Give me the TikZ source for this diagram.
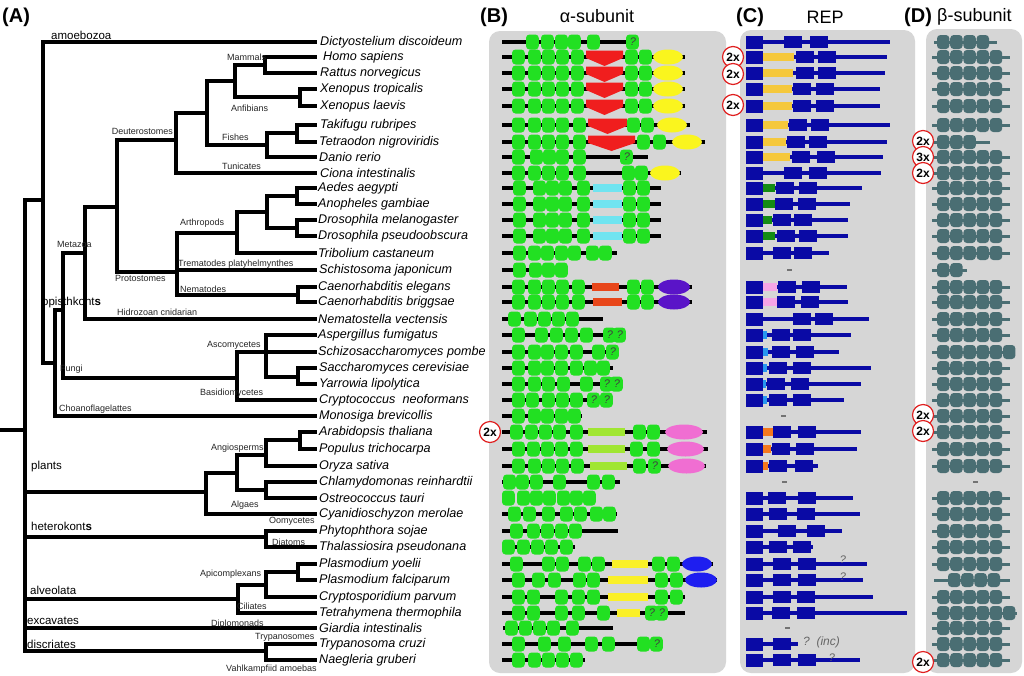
\documentclass[tikz,border=0pt]{standalone}
\usepackage{fontspec}
\setmainfont{Liberation Sans}
\definecolor{gG}{HTML}{22E022}
\definecolor{pnl}{HTML}{D6D6D6}
\definecolor{chevR}{HTML}{F01E1E}
\definecolor{yel}{HTML}{FAF51E}
\definecolor{cyb}{HTML}{70E4F0}
\definecolor{orb}{HTML}{E8461A}
\definecolor{pur}{HTML}{5A14C8}
\definecolor{limeB}{HTML}{A0E632}
\definecolor{pnk}{HTML}{F06ED2}
\definecolor{yelb}{HTML}{FAF028}
\definecolor{bluE}{HTML}{1E1EF0}
\definecolor{navyC}{HTML}{0A0AA5}
\definecolor{goldC}{HTML}{F5C83C}
\definecolor{dgr}{HTML}{148C14}
\definecolor{pnk2}{HTML}{F5A5E6}
\definecolor{lbl}{HTML}{2896F0}
\definecolor{orgC}{HTML}{F5781E}
\definecolor{tealD}{HTML}{4A6E73}
\definecolor{mkred}{HTML}{E02020}
% tree
\newcommand\Hl[3]{\draw[tr] (#1,#3) -- (#2,#3);}
\newcommand\Vl[3]{\draw[tr] (#1,#2) -- (#1,#3);}
\newcommand\Lf[2]{\draw[tr] (#1,#2) -- (315,#2);}
% panel B
\newcommand\Bl[3]{\draw[bln] (#2,#1) -- (#3,#1);}
\newcommand\Bb[2]{\foreach \q in {#2}{\fill[gbx] (\q,#1-7.5) rectangle ++(12.8,15);}}
\newcommand\Bq[2]{\foreach \q in {#2}{\fill[gbx] (\q,#1-7.5) rectangle ++(12.8,15); \node[qm] (q-#1-\q) at (\q+7,#1) {?};}}
\newcommand\Bch[3]{\fill[chevR] (#2,#1-6.5) -- (#3,#1-6.5) -- (#3,#1+1) -- ({(#2+#3)/2},#1+9) -- (#2,#1+1) -- cycle;}
\newcommand\Bbar[4]{\fill[#4] (#2,#1-4) rectangle (#3,#1+4);}
\newcommand\Bel[4]{\fill[#4] ({(#2+#3)/2},#1) ellipse ({(#3-#2)/2} and 7.5);}
% panel C
\newcommand\Cr[4]{\draw[cln] (763,#1) -- (#2,#1);
  \fill[navyC] (746,#1-6.5) rectangle (763,#1+6.5);
  \foreach \q in {#3,#4}{\fill[navyC] (\q,#1-6) rectangle ++(17.5,12);}}
\newcommand\Cbar[3]{\fill[#3] (763,#1-4) rectangle (#2,#1+4);}
\newcommand\Cdash[2]{\draw[black!55,line width=1.2pt] (#2,#1) -- ++(5,0);}
% panel D
\newcommand\Dr[5]{\draw[dln] (#2,#1) -- (#3,#1);
  \foreach \k in {1,...,#4}{\fill[tbx] ({#5+(\k-1)*13.2},#1-7) rectangle ++(12.4,14);}}
\begin{document}
\begin{tikzpicture}[x=1pt,y=-1pt,
  tr/.style={line width=3.2pt,line cap=rect},
  bln/.style={line width=3.5pt},
  gbx/.style={gG,rounded corners=3.5pt},
  qm/.style={inner sep=0pt,font=\fontsize{11}{11}\selectfont\itshape,text=black!75},
  cln/.style={navyC,line width=3.5pt},
  dln/.style={tealD,line width=3pt},
  tbx/.style={tealD,rounded corners=3.5pt},
  sp/.style={anchor=west,inner sep=0pt,font=\fontsize{12.6}{14}\selectfont\itshape},
  cla/.style={anchor=west,inner sep=0pt,font=\fontsize{9}{10}\selectfont,text=black!85},
  big/.style={anchor=west,inner sep=0pt,font=\fontsize{11.5}{12}\selectfont},
  ttl/.style={anchor=west,inner sep=0pt,font=\fontsize{20}{22}\selectfont\bfseries},
  sub/.style={inner sep=0pt,font=\fontsize{18}{20}\selectfont},
  mk/.style={circle,draw=mkred,line width=1.2pt,fill=white,inner sep=0pt,minimum size=21pt,font=\fontsize{12}{12}\selectfont\bfseries}
]
\useasboundingbox (0,0) rectangle (1024,675);
\fill[white] (0,0) rectangle (1024,675);

% ---------- panel backgrounds ----------
\fill[pnl,rounded corners=11pt] (489,31) rectangle (726,673);
\fill[pnl,rounded corners=11pt] (740,30) rectangle (915,673);
\fill[pnl,rounded corners=11pt] (926,29) rectangle (1022,673);

% ---------- titles ----------
\node[ttl] (tA) at (2,17) {(A)};
\node[ttl] (tB) at (480,17) {(B)};
\node[sub] (sB) at (597,16) {α-subunit};
\node[ttl] (tC) at (736,17) {(C)};
\node[sub] (sC) at (825,17) {REP};
\node[ttl] (tD) at (904,17) {(D)};
\node[sub,anchor=west] (sD) at (937,17) {β-subunit};

% ---------- tree ----------
\Hl{0}{25}{430} \Vl{25}{200}{651}
\Hl{25}{43}{200}
\Vl{43}{42}{363} \Lf{43}{42} \Hl{43}{55}{363}
\Vl{55}{310}{416} \Hl{55}{63}{310} \Lf{55}{416}
\Vl{63}{253}{378} \Hl{63}{85}{253} \Hl{63}{237}{378}
\Vl{85}{207}{319} \Hl{85}{117}{207} \Lf{85}{319}
\Vl{117}{140}{272} \Hl{117}{176}{140} \Hl{117}{177}{272}
\Vl{176}{113}{173} \Hl{176}{207}{113} \Lf{176}{173}
\Vl{207}{81}{145} \Hl{207}{235}{81} \Hl{207}{267}{145}
\Vl{235}{65}{97} \Hl{235}{265}{65} \Hl{235}{300}{97}
\Vl{265}{57}{73} \Lf{265}{57} \Lf{265}{73}
\Vl{300}{89}{106} \Lf{300}{89} \Lf{300}{106}
\Vl{267}{133}{157} \Hl{267}{297}{133} \Lf{267}{157}
\Vl{297}{125}{142} \Lf{297}{125} \Lf{297}{142}
\Vl{177}{233}{295} \Hl{177}{237}{233} \Lf{177}{270} \Hl{177}{298}{295}
\Vl{237}{212}{253} \Hl{237}{267}{212} \Lf{237}{253}
\Vl{267}{196}{228} \Hl{267}{297}{196} \Hl{267}{297}{228}
\Vl{297}{188}{204} \Lf{297}{188} \Lf{297}{204}
\Vl{297}{220}{236} \Lf{297}{220} \Lf{297}{236}
\Vl{298}{287}{302} \Lf{298}{287} \Lf{298}{302}
\Vl{237}{352}{400} \Hl{237}{266}{352} \Lf{237}{400}
\Vl{266}{335}{377} \Lf{266}{335} \Lf{266}{352} \Hl{266}{298}{377}
\Vl{298}{368}{384} \Lf{298}{368} \Lf{298}{384}
\Hl{25}{206}{492}
\Vl{206}{473}{514} \Hl{206}{237}{473} \Lf{206}{514}
\Vl{237}{455}{490} \Hl{237}{266}{455} \Hl{237}{266}{490}
\Vl{266}{440}{466} \Hl{266}{300}{440} \Lf{266}{466}
\Vl{300}{432}{449} \Lf{300}{432} \Lf{300}{449}
\Vl{266}{482}{498} \Lf{266}{482} \Lf{266}{498}
\Hl{25}{266}{537} \Vl{266}{531}{547} \Lf{266}{531} \Lf{266}{547}
\Hl{25}{238}{599}
\Vl{238}{585}{613} \Hl{238}{266}{585} \Lf{238}{613}
\Vl{266}{572}{597} \Hl{266}{298}{572} \Lf{266}{597}
\Vl{298}{564}{580} \Lf{298}{564} \Lf{298}{580}
\Lf{25}{628}
\Hl{25}{266}{651} \Vl{266}{644}{660} \Lf{266}{644} \Lf{266}{660}

% ---------- clade labels ----------
\node[big] (c1) at (51,35) {amoebozoa};
\node[cla] (c2) at (227,57) {Mammals};
\node[cla] (c3) at (231,108) {Anfibians};
\node[cla,anchor=east] (c4) at (173,131) {Deuterostomes};
\node[cla] (c5) at (222,137) {Fishes};
\node[cla] (c6) at (222,166) {Tunicates};
\node[cla] (c7) at (180,223) {Arthropods};
\node[cla] (c8) at (57,244) {Metazoa};
\node[cla] (c9) at (178,264) {Trematodes platyhelmynthes};
\node[cla] (c10) at (115,278) {Protostomes};
\node[cla] (c11) at (180,289) {Nematodes};
\node[big] (c12) at (42,303) {opisthkont\textbf{s}};
\node[cla] (c13) at (117,312) {Hidrozoan cnidarian};
\node[cla] (c14) at (207,345) {Ascomycetes};
\node[cla] (c15) at (60,369) {Fungi};
\node[cla] (c16) at (200,393) {Basidiomycetes};
\node[cla] (c17) at (59,409) {Choanoflagelattes};
\node[cla] (c18) at (211,448) {Angiosperms};
\node[big] (c19) at (31,467) {plants};
\node[cla] (c20) at (231,505) {Algaes};
\node[cla] (c21) at (269,521) {Oomycetes};
\node[big] (c22) at (31,526) {heterokont\textbf{s}};
\node[cla] (c23) at (272,542) {Diatoms};
\node[cla] (c24) at (200,574) {Apicomplexans};
\node[big] (c25) at (30,590) {alveolata};
\node[cla] (c26) at (237,606) {Ciliates};
\node[big] (c27) at (27,621) {excavates};
\node[cla] (c28) at (211,624) {Diplomonads};
\node[cla] (c29) at (255,637) {Trypanosomes};
\node[big] (c30) at (27,644) {discriates};
\node[cla] (c31) at (226,669) {Vahlkampfiid amoebas};

% ---------- species ----------
\node[sp] (s0) at (320,42) {Dictyostelium discoideum};
\node[sp] (s1) at (323,57) {Homo sapiens};
\node[sp] (s2) at (320,73) {Rattus norvegicus};
\node[sp] (s3) at (320,89) {Xenopus tropicalis};
\node[sp] (s4) at (320,106) {Xenopus laevis};
\node[sp] (s5) at (320,125) {Takifugu rubripes};
\node[sp] (s6) at (319,142) {Tetraodon nigroviridis};
\node[sp] (s7) at (319,157) {Danio rerio};
\node[sp] (s8) at (320,173) {Ciona intestinalis};
\node[sp] (s9) at (318,188) {Aedes aegypti};
\node[sp] (s10) at (318,204) {Anopheles gambiae};
\node[sp] (s11) at (318,220) {Drosophila melanogaster};
\node[sp] (s12) at (318,236) {Drosophila pseudoobscura};
\node[sp] (s13) at (318,253) {Tribolium castaneum};
\node[sp] (s14) at (319,270) {Schistosoma japonicum};
\node[sp] (s15) at (318,287) {Caenorhabditis elegans};
\node[sp] (s16) at (318,302) {Caenorhabditis briggsae};
\node[sp] (s17) at (318,319) {Nematostella vectensis};
\node[sp] (s18) at (318,335) {Aspergillus fumigatus};
\node[sp] (s19) at (318,352) {Schizosaccharomyces pombe};
\node[sp] (s20) at (319,368) {Saccharomyces cerevisiae};
\node[sp] (s21) at (319,384) {Yarrowia lipolytica};
\node[sp] (s22) at (319,400) {Cryptococcus\ \ neoformans};
\node[sp] (s23) at (319,416) {Monosiga brevicollis};
\node[sp] (s24) at (319,432) {Arabidopsis thaliana};
\node[sp] (s25) at (319,449) {Populus trichocarpa};
\node[sp] (s26) at (319,466) {Oryza sativa};
\node[sp] (s27) at (319,482) {Chlamydomonas reinhardtii};
\node[sp] (s28) at (319,498) {Ostreococcus tauri};
\node[sp] (s29) at (319,514) {Cyanidioschyzon merolae};
\node[sp] (s30) at (319,531) {Phytophthora sojae};
\node[sp] (s31) at (319,547) {Thalassiosira pseudonana};
\node[sp] (s32) at (319,564) {Plasmodium yoelii};
\node[sp] (s33) at (319,580) {Plasmodium falciparum};
\node[sp] (s34) at (319,597) {Cryptosporidium parvum};
\node[sp] (s35) at (319,613) {Tetrahymena thermophila};
\node[sp] (s36) at (319,628) {Giardia intestinalis};
\node[sp] (s37) at (319,644) {Trypanosoma cruzi};
\node[sp] (s38) at (319,660) {Naegleria gruberi};

% ---------- panel B: alpha-subunit ----------
\Bl{42}{502}{637} \Bb{42}{526,541,555,568,587} \Bq{42}{626}
\foreach \yy in {57,73,89,106}{\Bl{\yy}{502}{685} \Bb{\yy}{512,528,542,556,571} \Bch{\yy}{586}{623} \Bb{\yy}{625,639} \Bel{\yy}{653}{683}{yel}}
\Bl{125}{502}{690} \Bb{125}{512,528,542,556,573} \Bch{125}{588}{627} \Bb{125}{627,641} \Bel{125}{657}{687}{yel}
\Bl{142}{502}{705} \Bb{142}{512,528,542,556,573} \Bch{142}{588}{635} \Bb{142}{637,653} \Bel{142}{672}{702}{yel}
\Bl{157}{502}{648} \Bb{157}{512,530,543,556,573} \Bq{157}{620}
\Bl{173}{502}{681} \Bb{173}{512,528,542,556,573} \Bb{173}{622,635} \Bel{173}{650}{680}{yel}
\foreach \yy in {188,204,220,236}{\Bl{\yy}{502}{661} \Bb{\yy}{513,533,546,559,577} \Bbar{\yy}{593}{622}{cyb} \Bb{\yy}{623,637}}
\Bl{253}{502}{617} \Bb{253}{513,528,541,555,568,586,599}
\Bl{270}{502}{540} \Bb{270}{513,529,542,555}
\Bl{287}{502}{692} \Bb{287}{512,528,542,556,572} \Bbar{287}{592}{619}{orb} \Bb{287}{627,641} \Bel{287}{658}{690}{pur}
\Bl{302}{502}{692} \Bb{302}{512,528,542,556,572} \Bbar{302}{593}{622}{orb} \Bb{302}{627,641} \Bel{302}{658}{690}{pur}
\Bl{319}{502}{603} \Bb{319}{508,524,538,552,566}
\Bl{335}{502}{612} \Bb{335}{512,535,550,565,580} \Bq{335}{603,613}
\Bl{352}{502}{617} \Bb{352}{512,528,541,555,570,592} \Bq{352}{606}
\Bl{368}{502}{613} \Bb{368}{512,528,541,555,570,584,597}
\Bl{384}{502}{623} \Bb{384}{512,528,542,557,580} \Bq{384}{600,610}
\Bl{400}{502}{613} \Bb{400}{512,526,542,556,570} \Bq{400}{587,600}
\Bl{416}{502}{582} \Bb{416}{512,528,541,555,568}
\Bl{432}{502}{707} \Bb{432}{510,525,539,553,570} \Bbar{432}{588}{625}{limeB} \Bb{432}{633,647} \Bel{432}{665}{703}{pnk}
\Bl{449}{502}{708} \Bb{449}{512,527,541,555,570} \Bbar{449}{588}{625}{limeB} \Bb{449}{630,647} \Bel{449}{667}{704}{pnk}
\Bl{466}{502}{706} \Bb{466}{512,528,542,556,571} \Bbar{466}{590}{627}{limeB} \Bb{466}{633} \Bq{466}{648} \Bel{466}{668}{705}{pnk}
\Bl{482}{502}{620} \Bb{482}{503,516,530,553,587,602}
\Bb{498}{502,517,530,543,557,570,583}
\Bl{514}{502}{617} \Bb{514}{508,523,542,560,574,590,603}
\Bl{531}{502}{618} \Bb{531}{510,527,541,555,569}
\Bl{547}{502}{575} \Bb{547}{502,517,531,545,560}
\Bl{564}{502}{713} \Bb{564}{510,542,556,578,592} \Bbar{564}{612}{648}{yelb} \Bb{564}{652,667} \Bel{564}{682}{712}{bluE}
\Bl{580}{502}{717} \Bb{580}{512,532,548,573,587} \Bbar{580}{608}{648}{yelb} \Bb{580}{655,670} \Bel{580}{685}{717}{bluE}
\Bl{597}{502}{685} \Bb{597}{512,527,555,572,587} \Bbar{597}{608}{648}{yelb} \Bb{597}{655,670}
\Bl{613}{502}{685} \Bb{613}{512,527,555,572,597} \Bbar{613}{617}{640}{yelb} \Bq{613}{645,655}
\Bl{628}{503}{613} \Bb{628}{505,519,533,547,566}
\Bl{644}{502}{660} \Bb{644}{512,538,558,585,602,637} \Bq{644}{650}
\Bl{660}{502}{585} \Bb{660}{512,528,542,556,570}

% ---------- panel C: REP ----------
\Cr{42}{890}{784}{810}
\Cr{57}{887}{796}{818} \Cbar{57}{794}{goldC}
\Cr{73}{885}{796}{818} \Cbar{73}{793}{goldC}
\Cr{89}{880}{793}{816} \Cbar{89}{792}{goldC}
\Cr{106}{880}{793}{816} \Cbar{106}{792}{goldC}
\Cr{125}{890}{789}{811} \Cbar{125}{788}{goldC}
\Cr{142}{887}{787}{809} \Cbar{142}{786}{goldC}
\Cr{157}{883}{792}{817} \Cbar{157}{790}{goldC}
\Cr{173}{881}{784}{809}
\Cr{188}{862}{776}{799} \Cbar{188}{775}{dgr}
\Cr{204}{850}{775}{798} \Cbar{204}{775}{dgr}
\Cr{220}{848}{773}{794} \Cbar{220}{772}{dgr}
\Cr{236}{848}{777}{799} \Cbar{236}{775}{dgr}
\Cr{253}{829}{773}{794}
\Cdash{270}{787}
\Cr{287}{847}{778}{802} \Cbar{287}{777}{pnk2}
\Cr{302}{848}{777}{801} \Cbar{302}{777}{pnk2}
\Cr{319}{869}{793}{815}
\Cr{335}{851}{772}{793} \Cbar{335}{767}{lbl}
\Cr{352}{839}{772}{796} \Cbar{352}{768}{lbl}
\Cr{368}{871}{769}{793} \Cbar{368}{767}{lbl}
\Cr{384}{861}{767}{791} \Cbar{384}{766}{lbl}
\Cr{400}{844}{769}{793} \Cbar{400}{767}{lbl}
\Cdash{416}{781}
\Cr{432}{861}{773}{798} \Cbar{432}{773}{orgC}
\Cr{449}{857}{772}{796} \Cbar{449}{771}{orgC}
\Cr{466}{818}{769}{795} \Cbar{466}{768}{orgC}
\Cdash{482}{782}
\Cr{498}{853}{768}{798}
\Cr{514}{860}{769}{797}
\Cr{531}{842}{778}{807}
\Cr{547}{813}{769}{793}
\Cr{564}{867}{773}{798} \node[qm,text=black!60] (qc1) at (843,560) {?};
\Cr{580}{863}{773}{798} \node[qm,text=black!60] (qc2) at (843,577) {?};
\Cr{597}{873}{773}{797}
\Cr{613}{907}{772}{797}
\Cdash{628}{785}
\draw[cln] (763,644) -- (798,644);
\fill[navyC] (746,637.5) rectangle (763,650.5);
\fill[navyC] (773,638) rectangle ++(17.5,12);
\node[qm,anchor=west,font=\fontsize{12}{12}\selectfont\itshape,text=black!60] (qc3) at (803,642) {?\ \ (inc)};
\Cr{660}{860}{773}{798} \node[qm,text=black!60] (qc4) at (832,658) {?};

% ---------- panel D: beta-subunit ----------
\Dr{42}{934}{997}{4}{937}
\foreach \yy in {57,73,89,106,125}{\Dr{\yy}{932}{1010}{5}{937}}
\Dr{142}{932}{990}{3}{937}
\foreach \yy in {157,173,188,204,220,236,253}{\Dr{\yy}{932}{1010}{5}{937}}
\Dr{270}{932}{967}{2}{937}
\foreach \yy in {287,302,319,335}{\Dr{\yy}{932}{1010}{5}{937}}
\Dr{352}{932}{1015}{6}{937}
\foreach \yy in {368,384,400,416,432,449,466}{\Dr{\yy}{932}{1010}{5}{937}}
\Cdash{482}{973}
\foreach \yy in {498,514,531,547,564}{\Dr{\yy}{932}{1010}{5}{937}}
\Dr{580}{934}{1010}{4}{948}
\Dr{597}{932}{1010}{5}{937}
\Dr{613}{932}{1017}{6}{937}
\foreach \yy in {628,644,660}{\Dr{\yy}{932}{1010}{5}{937}}

% ---------- multiplicity markers ----------
\node[mk] (m1) at (490,432) {2x};
\node[mk] (m2) at (733,57) {2x};
\node[mk] (m3) at (733,74) {2x};
\node[mk] (m4) at (733,105) {2x};
\node[mk] (m5) at (923,141) {2x};
\node[mk] (m6) at (923,157) {3x};
\node[mk] (m7) at (923,173) {2x};
\node[mk] (m8) at (923,415) {2x};
\node[mk] (m9) at (923,431) {2x};
\node[mk] (m10) at (923,662) {2x};
\end{tikzpicture}
\end{document}
